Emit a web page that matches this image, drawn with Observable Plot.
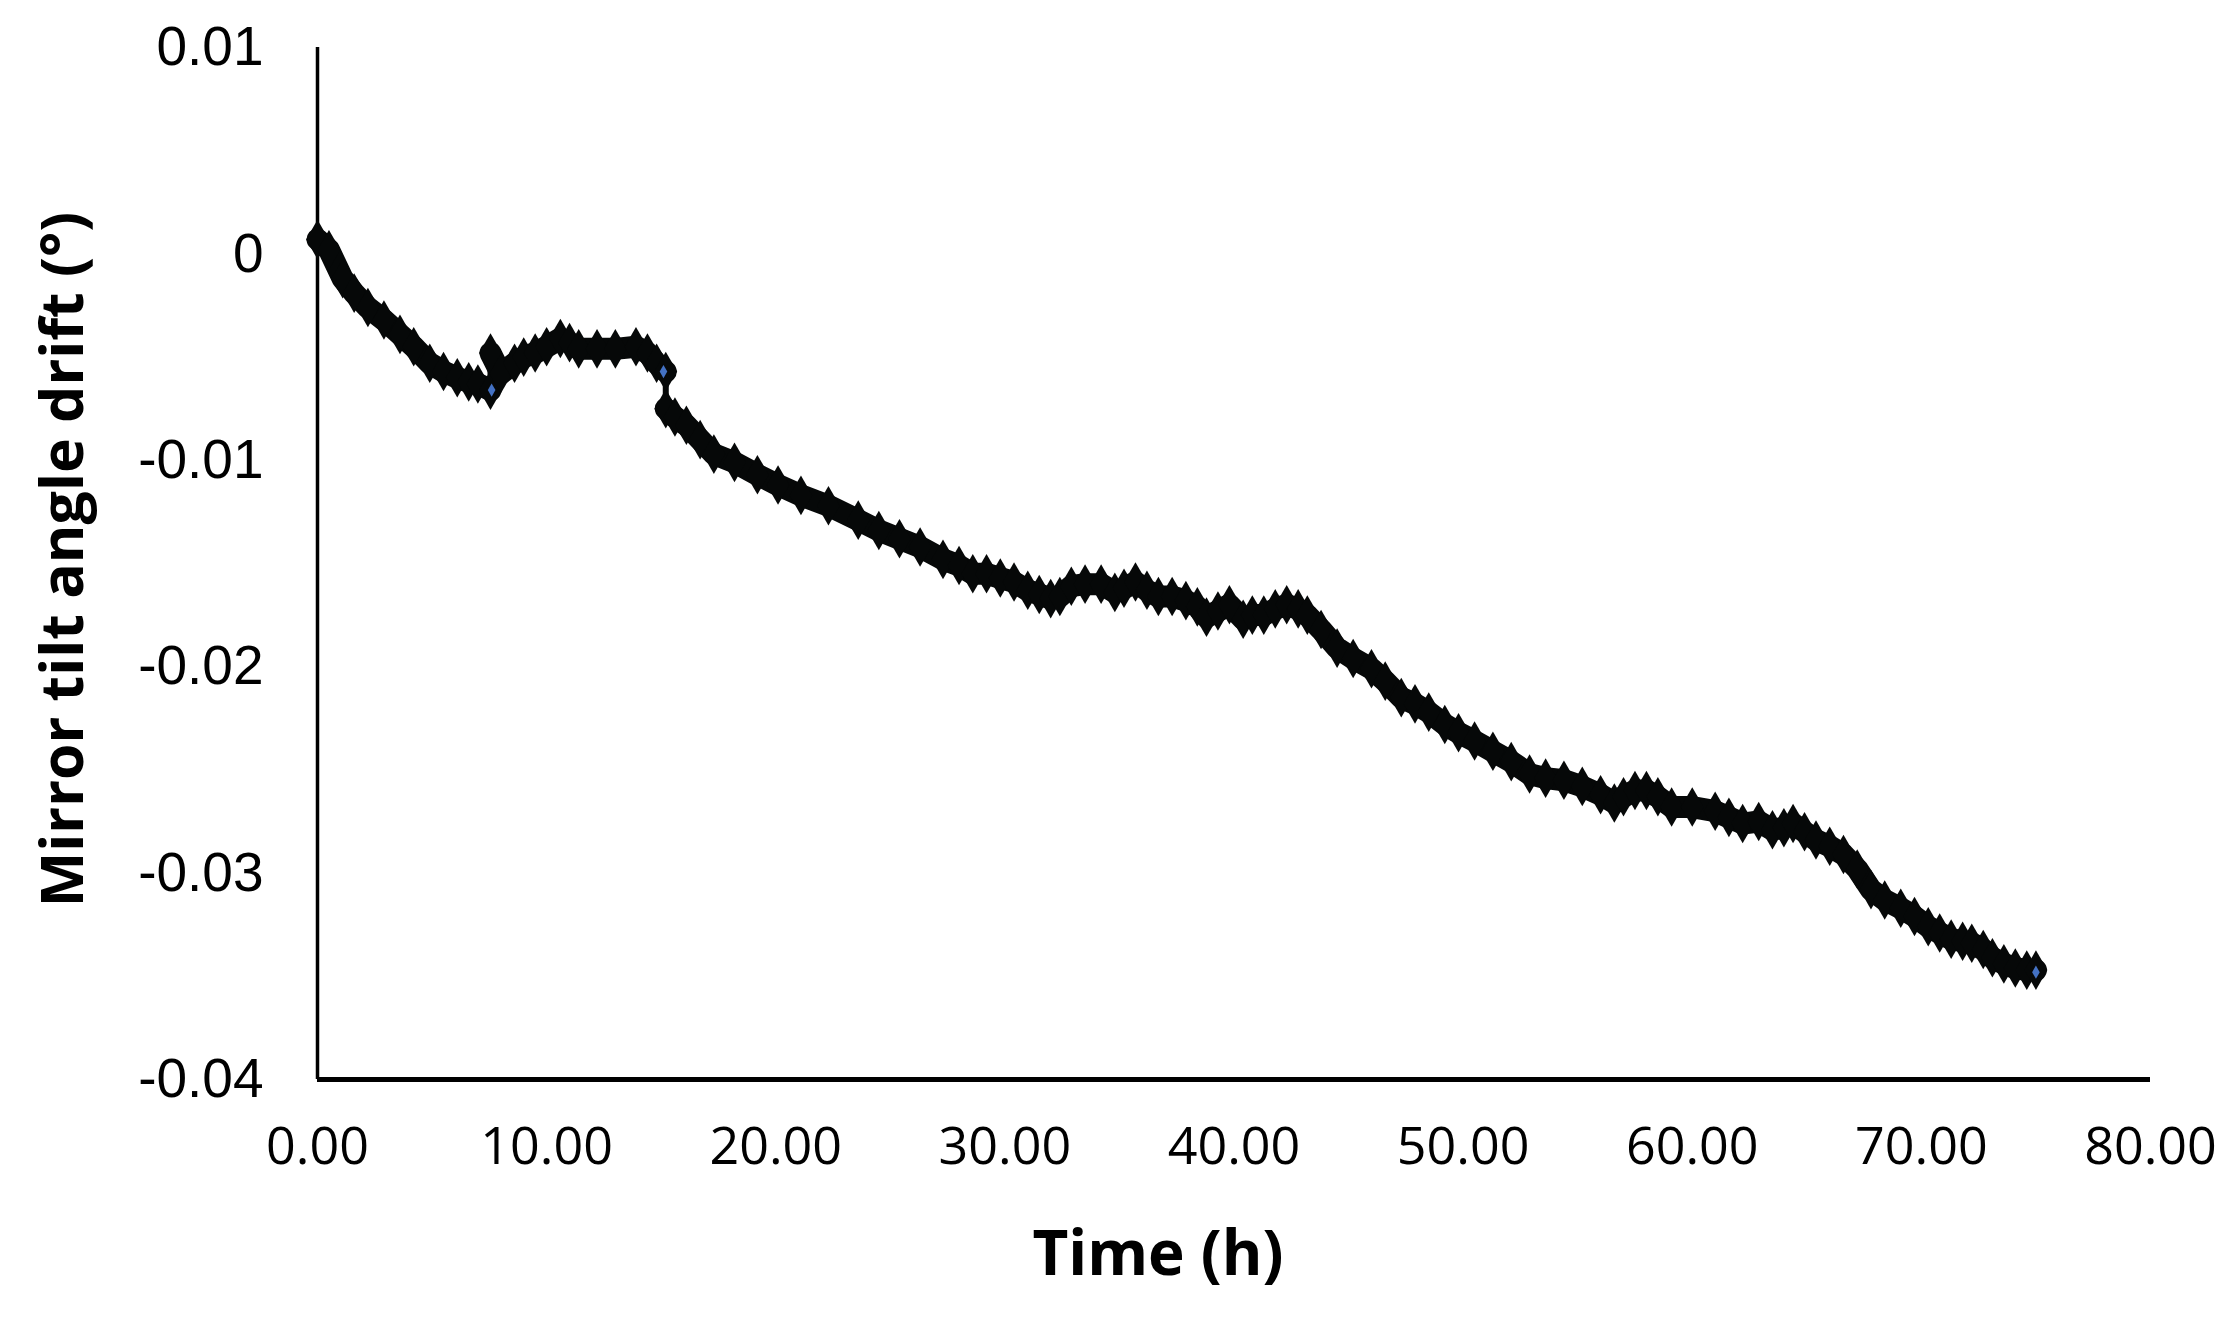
<!DOCTYPE html>
<html>
<head>
<meta charset="utf-8">
<script src="https://cdn.jsdelivr.net/npm/d3@7"></script>
<script src="https://cdn.jsdelivr.net/npm/@observablehq/plot@0.6"></script>
<style>
  html, body { margin: 0; padding: 0; background: #fff; }
  #chart svg { display: block; }
</style>
</head>
<body>
<div id="chart"></div>
<script>
// Time (h) and drift (°); seg marks the breaks at the jumps
const time = [0, 0.5, 1.1, 1.6, 2.2, 2.9, 3.6, 4.2, 4.9, 5.5, 6.1, 6.6, 7.0, 7.55,
              7.55, 8.0, 8.6, 9.0, 9.5, 10.0, 10.6, 11.0, 11.4, 12.2, 13.0, 13.9, 14.4, 14.8, 15.2,
              15.2, 15.6, 16.1, 16.7, 17.3, 18.2, 19.2, 20.1, 21.1, 22.3, 23.6, 24.5, 25.4, 26.3, 27.3, 28.0, 28.6, 29.2, 29.8, 30.4, 31.0, 31.5, 32.0, 32.4, 32.9, 33.5, 34.2, 34.8, 35.2, 35.7, 36.2, 36.7, 37.3, 37.9, 38.4, 38.8, 39.3, 39.8, 40.4, 40.8, 41.3, 41.8, 42.3, 42.8, 43.2, 43.8, 44.5, 45.2, 46.0, 46.6, 47.3, 47.9, 48.5, 49.2, 49.8, 50.5, 51.3, 52.1, 52.9, 53.6, 54.4, 55.2, 56.0, 56.6, 57.0, 57.5, 58.0, 58.5, 59.1, 60.0, 61.0, 61.6, 62.2, 62.9, 63.5, 64.0, 64.4, 64.9, 65.4, 66.0, 66.6, 67.2, 67.8, 68.4, 69.1, 69.7, 70.3, 70.8, 71.3, 71.8, 72.2, 72.7, 73.1, 73.6, 74.1, 74.6, 75.0];
const drift = [0.0007, 0.0002, -0.0012, -0.0019, -0.0026, -0.0032, -0.0039, -0.0045, -0.0053, -0.0057, -0.0060, -0.0062, -0.0063, -0.0066,
              -0.0048, -0.0058, -0.0053, -0.0050, -0.0048, -0.0045, -0.0041, -0.0043, -0.0046, -0.0046, -0.0046, -0.0045, -0.0048, -0.0053, -0.0057,
              -0.0075, -0.0079, -0.0083, -0.0090, -0.0097, -0.0101, -0.0107, -0.0112, -0.0117, -0.0122, -0.0129, -0.0134, -0.0138, -0.0142, -0.0148, -0.0151, -0.0155, -0.0155, -0.0157, -0.0159, -0.0163, -0.0165, -0.0167, -0.0166, -0.0161, -0.0160, -0.0160, -0.0164, -0.0162, -0.0159, -0.0163, -0.0166, -0.0166, -0.0168, -0.0171, -0.0176, -0.0173, -0.0170, -0.0177, -0.0175, -0.0175, -0.0172, -0.0170, -0.0172, -0.0175, -0.0182, -0.0191, -0.0196, -0.0201, -0.0207, -0.0215, -0.0218, -0.0222, -0.0228, -0.0232, -0.0236, -0.0241, -0.0246, -0.0252, -0.0254, -0.0255, -0.0258, -0.0262, -0.0266, -0.0263, -0.0260, -0.0260, -0.0263, -0.0268, -0.0268, -0.0270, -0.0273, -0.0276, -0.0275, -0.0279, -0.0278, -0.0276, -0.0280, -0.0284, -0.0287, -0.0291, -0.0298, -0.0308, -0.0313, -0.0317, -0.0321, -0.0326, -0.0329, -0.0332, -0.0333, -0.0334, -0.0337, -0.0341, -0.0344, -0.0346, -0.0347, -0.0347];
const seg = [];
for (let i = 0; i < time.length; i++) seg.push(i < 14 ? 1 : i < 29 ? 2 : 3);

// small blue marker centres visible through the band
const blueTime = [7.6, 15.1, 75.0];
const blueDrift = [-0.0066, -0.0057, -0.0348];

const xTicks = [0, 10, 20, 30, 40, 50, 60, 70, 80];
const yTicks = [0.01, 0, -0.01, -0.02, -0.03, -0.04];
const xTitle = "Time (h)";
const yTitle = "Mirror tilt angle drift (°)";

const data = time.map((t, i) => ({t, v: drift[i], s: seg[i]}));
const blue = blueTime.map((t, i) => ({t, v: blueDrift[i]}));

const chart = Plot.plot({
  width: 2230,
  height: 1323,
  marginLeft: 317,
  marginRight: 80,
  marginTop: 47,
  marginBottom: 244,
  x: {domain: [0, 80], ticks: xTicks},
  y: {domain: [-0.04, 0.01], ticks: yTicks},
  marks: [
    Plot.axisX({ticks: xTicks, tickSize: 0, tickPadding: 48, tickFormat: d => d.toFixed(2),
      fontSize: 52, fontFamily: "Open Sans", fill: "#000", label: null}),
    Plot.axisY({ticks: yTicks, tickSize: 0, tickPadding: 54,
      tickFormat: d => d === 0 ? "0" : d.toFixed(2),
      fontSize: 55, fontFamily: "Liberation Sans", fill: "#000", label: null}),
    Plot.ruleX([0], {stroke: "#000", strokeWidth: 3.5}),
    Plot.ruleY([-0.04], {stroke: "#000", strokeWidth: 5}),
    Plot.line(data, {x: "t", y: "v", stroke: "#060808", strokeWidth: 6}),
    Plot.line(data, {x: "t", y: "v", z: "s", stroke: "#060808", strokeWidth: 22, strokeLinejoin: "round"}),
    Plot.dot(data, {x: "t", y: "v", symbol: "diamond", r: 12, fill: "#060808"}),
    Plot.dot(blue, {x: "t", y: "v", symbol: "diamond", r: 4, fill: "#4472C4"}),
    Plot.text([xTitle], {frameAnchor: "bottom", dx: -76, dy: 195, text: d => d,
      fontSize: 62, fontWeight: "bold", fontFamily: "Open Sans", fill: "#000"}),
    Plot.text([yTitle], {frameAnchor: "left", textAnchor: "middle", dx: -253, dy: -4, rotate: -90, text: d => d,
      fontSize: 59, fontWeight: "bold", fontFamily: "Open Sans", fill: "#000"})
  ]
});
document.getElementById("chart").appendChild(chart);
</script>
</body>
</html>
